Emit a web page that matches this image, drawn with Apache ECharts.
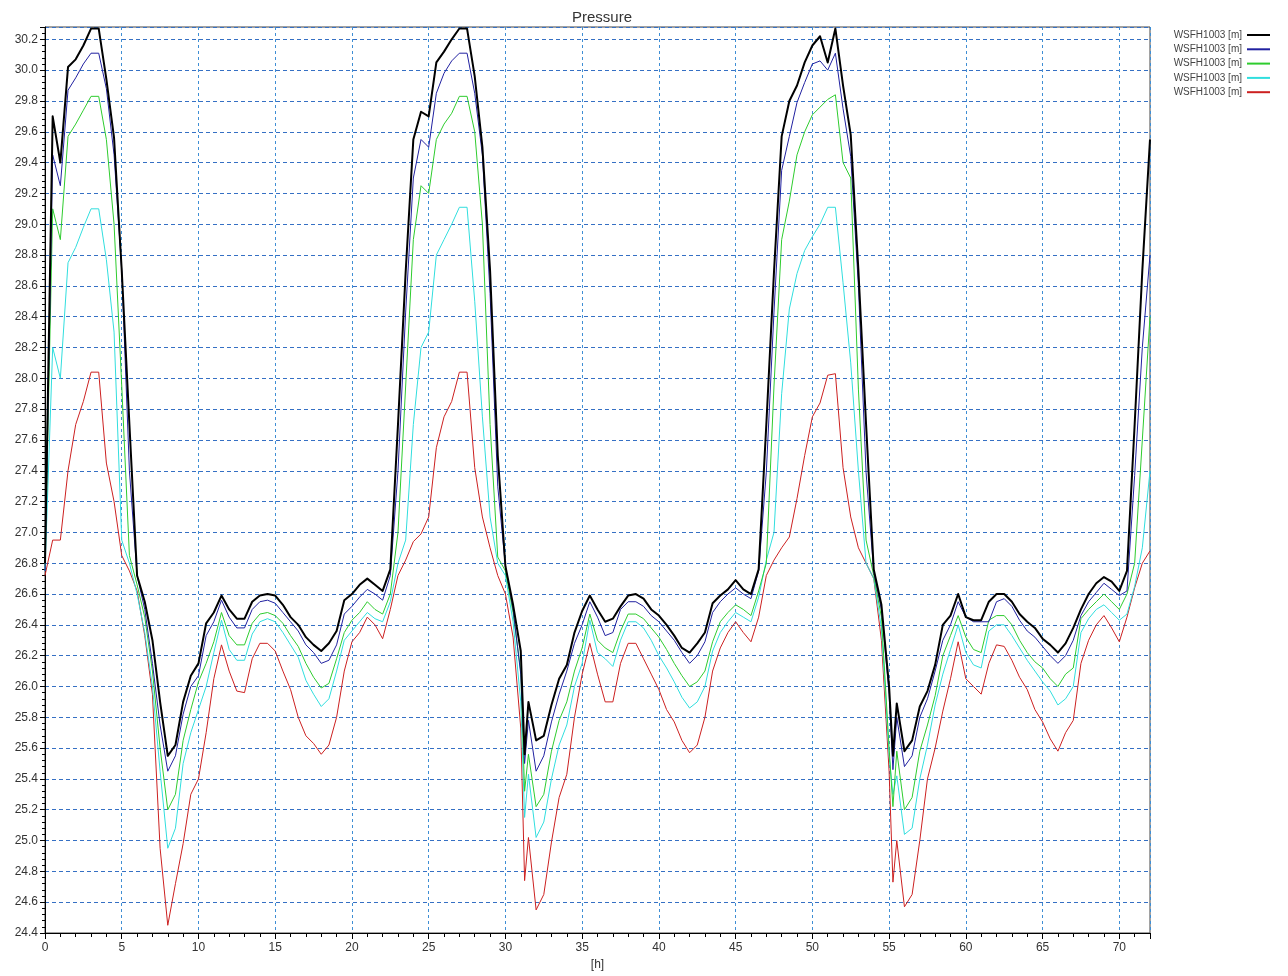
<!DOCTYPE html>
<html lang="en">
	<head>
		<meta charset="utf-8">
		<title>Pressure</title>
		<style type="text/css">
			html, body { margin: 0; padding: 0; background: #fff; }
			#chart { width: 1288px; height: 976px; }
		</style>
	</head>
	<body>
		<div id="chart"></div>
		<script src="https://cdn.jsdelivr.net/npm/echarts@6/dist/echarts.min.js"></script>
		<script type="text/javascript">
			// time axis [h]
			var hours = [
				0,0.5,1,1.5,2,2.5,3,3.5,4,4.5,5,5.5,6,6.5,7,7.5,8,8.5,9,9.5,
				10,10.5,11,11.5,12,12.5,13,13.5,14,14.5,15,15.5,16,16.5,17,17.5,18,18.5,19,19.5,
				20,20.5,21,21.5,22,22.5,23,23.5,24,24.5,25,25.5,26,26.5,27,27.5,28,28.5,29,29.5,
				30,30.5,31,31.25,31.5,32,32.5,33,33.5,34,34.5,35,35.5,36,36.5,37,37.5,38,38.5,39,39.5,
				40,40.5,41,41.5,42,42.5,43,43.5,44,44.5,45,45.5,46,46.5,47,47.5,48,48.5,49,49.5,
				50,50.5,51,51.5,52,52.5,53,53.5,54,54.5,55,55.25,55.5,56,56.5,57,57.5,58,58.5,59,59.5,
				60,60.5,61,61.5,62,62.5,63,63.5,64,64.5,65,65.5,66,66.5,67,67.5,68,68.5,69,69.5,
				70,70.5,71,71.5,72
			];

			// pressure [m], five WSFH1003 series
			var p1 = [
				26.8,29.7,29.4,30.02,30.07,30.16,30.27,30.27,29.94,29.56,28.7,27.7,26.72,26.55,26.3,25.9,25.55,25.62,25.9,26.07,
				26.15,26.41,26.48,26.59,26.5,26.44,26.44,26.55,26.59,26.6,26.59,26.53,26.45,26.4,26.32,26.27,26.23,26.28,26.36,26.56,
				26.6,26.66,26.7,26.66,26.62,26.76,27.7,28.69,29.55,29.73,29.7,30.05,30.12,30.2,30.27,30.27,29.96,29.5,28.7,27.5,
				26.78,26.53,26.23,25.56,25.9,25.65,25.68,25.88,26.05,26.14,26.35,26.49,26.59,26.5,26.42,26.44,26.52,26.59,26.6,26.57,26.5,
				26.46,26.4,26.33,26.25,26.22,26.28,26.35,26.54,26.59,26.63,26.69,26.63,26.6,26.76,27.7,28.69,29.57,29.8,29.9,30.05,
				30.16,30.22,30.05,30.27,29.9,29.58,28.7,27.7,26.76,26.53,26.0,25.55,25.89,25.58,25.65,25.87,25.97,26.14,26.4,26.46,26.6,
				26.45,26.43,26.43,26.55,26.6,26.6,26.55,26.47,26.42,26.38,26.31,26.27,26.22,26.28,26.38,26.5,26.6,26.67,26.71,26.68,
				26.62,26.75,27.7,28.7,29.55
			];
			var p2 = [
				26.75,29.45,29.25,29.87,29.95,30.04,30.11,30.11,29.88,29.45,28.7,27.4,26.72,26.5,26.15,25.75,25.45,25.55,25.82,26.0,
				26.07,26.33,26.42,26.56,26.45,26.38,26.38,26.5,26.55,26.56,26.54,26.48,26.42,26.36,26.27,26.22,26.15,26.17,26.27,26.47,
				26.52,26.58,26.63,26.6,26.56,26.72,27.4,28.43,29.3,29.55,29.5,29.85,29.98,30.06,30.11,30.11,29.85,29.45,28.55,27.3,
				26.78,26.5,26.08,25.5,25.78,25.45,25.55,25.77,25.95,26.1,26.28,26.4,26.55,26.45,26.33,26.35,26.5,26.55,26.55,26.52,26.46,
				26.42,26.36,26.3,26.22,26.15,26.2,26.29,26.48,26.55,26.6,26.64,26.6,26.57,26.75,27.39,28.43,29.35,29.57,29.79,29.92,
				30.04,30.06,30.0,30.11,29.75,29.44,28.6,27.39,26.74,26.5,25.95,25.46,25.8,25.48,25.55,25.8,25.92,26.1,26.3,26.4,26.55,
				26.45,26.42,26.42,26.42,26.55,26.57,26.52,26.43,26.36,26.32,26.26,26.2,26.15,26.2,26.3,26.46,26.55,26.61,26.67,26.63,
				26.59,26.62,27.37,28.2,28.8
			];
			var p3 = [
				26.78,29.1,28.9,29.57,29.65,29.74,29.83,29.83,29.55,29.0,27.95,26.85,26.66,26.45,26.1,25.6,25.2,25.3,25.65,25.85,
				26.03,26.15,26.29,26.48,26.33,26.27,26.27,26.41,26.47,26.48,26.46,26.41,26.33,26.26,26.15,26.06,25.99,26.02,26.18,26.35,
				26.43,26.48,26.55,26.5,26.47,26.6,27.0,27.95,28.9,29.25,29.2,29.55,29.65,29.72,29.83,29.83,29.6,29.0,27.7,26.84,
				26.75,26.48,26.1,25.32,25.56,25.22,25.3,25.58,25.78,25.9,26.1,26.25,26.47,26.3,26.25,26.22,26.36,26.47,26.47,26.44,26.38,
				26.32,26.24,26.15,26.07,26.0,26.03,26.1,26.29,26.42,26.48,26.53,26.5,26.46,26.62,26.8,27.95,28.9,29.15,29.45,29.6,
				29.71,29.76,29.81,29.84,29.4,29.3,27.93,26.95,26.72,26.45,25.6,25.22,25.58,25.2,25.28,25.58,25.75,25.94,26.2,26.33,26.46,
				26.32,26.24,26.22,26.43,26.46,26.46,26.4,26.3,26.22,26.16,26.12,26.05,26.0,26.08,26.12,26.44,26.5,26.55,26.6,26.55,
				26.5,26.6,26.8,27.6,28.4
			];
			var p4 = [
				26.75,28.2,28.0,28.75,28.85,28.98,29.1,29.1,28.77,28.3,26.95,26.8,26.6,26.35,26.0,25.45,24.95,25.08,25.5,25.7,
				25.85,26.0,26.22,26.43,26.24,26.17,26.17,26.34,26.42,26.44,26.42,26.35,26.27,26.19,26.04,25.95,25.87,25.92,26.1,26.3,
				26.36,26.42,26.48,26.44,26.42,26.55,26.8,26.95,27.7,28.2,28.3,28.8,28.9,29.0,29.11,29.11,28.5,27.75,27.1,26.8,
				26.72,26.42,25.9,25.15,25.43,25.02,25.12,25.4,25.62,25.75,26.0,26.15,26.43,26.22,26.18,26.13,26.3,26.42,26.42,26.38,26.3,
				26.2,26.12,26.03,25.93,25.86,25.9,26.0,26.23,26.35,26.42,26.48,26.45,26.42,26.58,26.82,27.0,27.9,28.45,28.68,28.83,
				28.92,29.0,29.11,29.11,28.62,28.1,27.4,26.8,26.7,26.38,25.55,25.3,25.42,25.04,25.08,25.4,25.62,25.88,26.08,26.24,26.4,
				26.22,26.14,26.12,26.36,26.4,26.4,26.33,26.25,26.17,26.1,26.03,25.97,25.88,25.92,26.0,26.35,26.44,26.5,26.53,26.48,
				26.43,26.47,26.65,26.9,27.4
			];
			var p5 = [
				26.72,26.95,26.95,27.4,27.7,27.85,28.04,28.04,27.45,27.2,26.85,26.75,26.62,26.33,25.95,24.95,24.45,24.72,24.98,25.3,
				25.4,25.7,26.05,26.27,26.1,25.97,25.96,26.18,26.28,26.28,26.23,26.1,25.98,25.8,25.68,25.63,25.56,25.62,25.8,26.1,
				26.29,26.35,26.45,26.4,26.31,26.5,26.72,26.82,26.94,26.99,27.1,27.55,27.75,27.85,28.04,28.04,27.42,27.1,26.9,26.72,
				26.6,26.32,25.73,24.74,25.02,24.55,24.65,24.99,25.28,25.43,25.8,26.08,26.28,26.08,25.9,25.9,26.15,26.28,26.28,26.18,26.08,
				25.98,25.85,25.77,25.65,25.57,25.62,25.8,26.1,26.25,26.35,26.42,26.35,26.29,26.45,26.72,26.82,26.9,26.97,27.22,27.5,
				27.75,27.84,28.02,28.03,27.42,27.1,26.9,26.8,26.7,26.3,25.45,24.73,25.0,24.57,24.65,25.0,25.4,25.6,25.84,26.05,26.29,
				26.05,26.0,25.95,26.15,26.27,26.26,26.17,26.06,25.98,25.85,25.77,25.66,25.58,25.7,25.78,26.15,26.3,26.4,26.46,26.38,
				26.29,26.45,26.64,26.8,26.88
			];

			var label = 'WSFH1003 [m]';
			var colors = ['#000000', '#2020a0', '#2ecc2e', '#30dede', '#cc2020'];
			var widths = [2, 1, 1, 1, 1];
			var all = [p1, p2, p3, p4, p5];

			var series = all.map(function(vals, k) {
				return {
					// zero-width spaces keep the five identical legend names apart
					name: label + new Array(k + 1).join('\u200b'),
					type: 'line',
					symbol: 'none',
					clip: true,
					data: hours.map(function(h, i) { return [h, vals[i]]; }),
					lineStyle: { color: colors[k], width: widths[k], join: 'round' },
					itemStyle: { color: colors[k] },
					z: 10 - k
				};
			});

			var chart = echarts.init(document.getElementById('chart'));
			chart.setOption({
				animation: false,
				textStyle: { fontFamily: 'Liberation Sans, Arial, sans-serif' },
				title: {
					text: 'Pressure',
					left: 597,
					top: 5,
					textAlign: 'center',
					textStyle: { fontSize: 15, fontWeight: 'normal', color: '#333' }
				},
				legend: {
					orient: 'vertical',
					right: 12,
					top: 25,
					align: 'right',
					itemWidth: 23,
					itemHeight: 10,
					itemGap: 4.3,
					// hide the round marker, keep only the line
					itemStyle: { opacity: 0 },
					textStyle: { fontSize: 10, color: '#444' }
				},
				grid: {
					left: 45, right: 138, top: 27, bottom: 41,
					show: true, borderColor: '#444', borderWidth: 1
				},
				xAxis: {
					type: 'value',
					min: 0, max: 72, interval: 5,
					name: '[h]',
					nameLocation: 'middle',
					nameGap: 26,
					nameTextStyle: { color: '#333', fontSize: 12 },
					axisLine: { lineStyle: { color: '#000' } },
					axisTick: { length: 6, lineStyle: { color: '#000' } },
					minorTick: { show: true, splitNumber: 5, length: 4, lineStyle: { color: '#000' } },
					axisLabel: {
						color: '#333', fontSize: 12, margin: 9,
						formatter: function(v) { return v % 5 === 0 ? String(v) : ''; }
					},
					splitLine: { show: true, lineStyle: { color: '#3f8ed4', type: [3, 3] } }
				},
				yAxis: {
					type: 'value',
					min: 24.4, max: 30.28, interval: 0.2,
					axisLine: { show: true, lineStyle: { color: '#000' } },
					axisTick: { show: true, length: 5, lineStyle: { color: '#000' } },
					minorTick: { show: true, splitNumber: 5, length: 3, lineStyle: { color: '#000' } },
					axisLabel: {
						color: '#333', fontSize: 12, margin: 7,
						formatter: function(v) {
							return Math.abs(v * 5 - Math.round(v * 5)) < 1e-6 ? v.toFixed(1) : '';
						}
					},
					splitLine: { show: true, lineStyle: { color: '#3570c4', type: [4, 3] } }
				},
				series: series
			});
		</script>
	</body>
</html>
